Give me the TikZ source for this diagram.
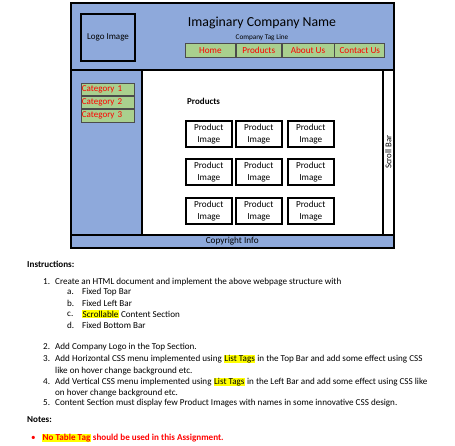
\documentclass[tikz,border=0pt]{standalone}
\usepackage{fontspec}
\setmainfont{Carlito}
\usetikzlibrary{positioning}
\definecolor{barblue}{RGB}{142,169,219}
\definecolor{menugreen}{RGB}{169,208,142}
\definecolor{hilite}{RGB}{255,255,0}
\newcommand{\marktag}[1]{{\setlength{\fboxsep}{0.5pt}\colorbox{hilite}{#1}}}

\begin{document}
\begin{tikzpicture}[x=1pt, y=-1pt,
  panel/.style={draw, line width=1.5pt, anchor=north west, inner sep=0pt},
  menu/.style={draw=black!70, line width=0.8pt, fill=menugreen, text=red, anchor=north west,
    minimum height=14pt, inner sep=0pt, font=\fontsize{9.2}{10}\selectfont},
  cat/.style={draw=black!70, line width=0.8pt, fill=menugreen, text=red, anchor=north west,
    minimum width=53pt, minimum height=12.3pt, inner sep=0.5pt, text width=52pt, font=\fontsize{9}{10}\selectfont},
  prod/.style={draw, line width=1.6pt, anchor=north west, minimum width=46pt, minimum height=26pt,
    inner sep=0pt, align=center, font=\fontsize{9.2}{12.2}\selectfont},
  txt/.style={anchor=west, inner sep=0pt, font=\fontsize{9.1}{10}\selectfont}]
\useasboundingbox (0,0) rectangle (455,445);
% page frame
\node[panel, fill=barblue, minimum width=323pt, minimum height=67pt] (top) at (70,2) {};
\node[panel, fill=barblue, minimum width=71pt, minimum height=165pt] (left) at (70,69) {};
\node[panel, fill=white, minimum width=241pt, minimum height=165pt] (content) at (141,69) {};
\node[panel, fill=white, minimum width=11pt, minimum height=165pt] (scroll) at (382,69) {};
\node[panel, fill=barblue, minimum width=323pt, minimum height=13pt] (bottom) at (70,234) {};
\node[rotate=90, inner sep=0pt, font=\fontsize{8.8}{9}\selectfont] (scrolltxt) at (scroll.center) {Scroll Bar};
\node[inner sep=0pt, font=\fontsize{9.2}{10}\selectfont] (copy) at (bottom.center) {Copyright Info};
% top bar
\node[panel, line width=2pt, minimum width=54pt, minimum height=47pt, align=center,
  font=\fontsize{9}{10}\selectfont] (logo) at (80,13) {Logo Image};
\node[inner sep=0pt, font=\fontsize{13.8}{15}\selectfont] (name) at (262,23) {Imaginary Company Name};
\node[inner sep=0pt, font=\fontsize{7.2}{8}\selectfont] (tag) at (262,38) {Company Tag Line};
\node[menu, minimum width=50pt] (home) at (185,43) {Home};
\node[menu, minimum width=45pt, right=0pt of home] (products) {Products};
\node[menu, minimum width=52pt, right=0pt of products] (about) {About Us};
\node[menu, minimum width=50pt, right=0pt of about] (contact) {Contact Us};
% left bar
\node[cat] (cat1) at (81,83) {Category 1};
\node[cat, below=0pt of cat1] (cat2) {Category 2};
\node[cat, below=0pt of cat2] (cat3) {Category 3};
% content
\node[anchor=west, inner sep=0pt, font=\bfseries\fontsize{9}{10}\selectfont] (prodhead) at (187,101) {Products};
\foreach \r/\y in {1/120,2/158,3/197}{
  \foreach \c/\x in {1/185,2/235,3/287}{
    \node[prod] (p\r\c) at (\x,\y) {Product\\Image};
  }
}
% instructions
\node[txt, font=\bfseries\fontsize{9.1}{10}\selectfont] (instr) at (27,264) {Instructions:};
\node[txt] (n1) at (43,282) {1.};
\node[txt] (t1) at (55,282) {Create an HTML document and implement the above webpage structure with};
\node[txt] (na) at (67,292) {a.};
\node[txt] (ta) at (82,292) {Fixed Top Bar};
\node[txt] (nb) at (67,303) {b.};
\node[txt] (tb) at (82,303) {Fixed Left Bar};
\node[txt] (nc) at (67,314) {c.};
\node[txt] (tc) at (82,314) {\marktag{Scrollable} Content Section};
\node[txt] (nd) at (67,325) {d.};
\node[txt] (td) at (82,325) {Fixed Bottom Bar};
\node[txt] (n2) at (43,347) {2.};
\node[txt] (t2) at (55,347) {Add Company Logo in the Top Section.};
\node[txt] (n3) at (43,359) {3.};
\node[txt] (t3) at (55,359) {Add Horizontal CSS menu implemented using \marktag{List Tags} in the Top Bar and add some effect using CSS};
\node[txt] (t3b) at (55,371) {like on hover change background etc.};
\node[txt] (n4) at (43,382) {4.};
\node[txt] (t4) at (55,382) {Add Vertical CSS menu implemented using \marktag{List Tags} in the Left Bar and add some effect using CSS like};
\node[txt] (t4b) at (55,393) {on hover change background etc.};
\node[txt] (n5) at (43,403) {5.};
\node[txt] (t5) at (55,403) {Content Section must display few Product Images with names in some innovative CSS design.};
\node[txt, font=\bfseries\fontsize{9.1}{10}\selectfont] (notes) at (27,420) {Notes:};
\node[txt, text=red] (dot) at (31,438) {\textbullet};
\node[txt, text=red, font=\bfseries\fontsize{9.1}{10}\selectfont] (note1) at (42,438) {\marktag{No Table Tag} should be used in this Assignment.};
\end{tikzpicture}
\end{document}
